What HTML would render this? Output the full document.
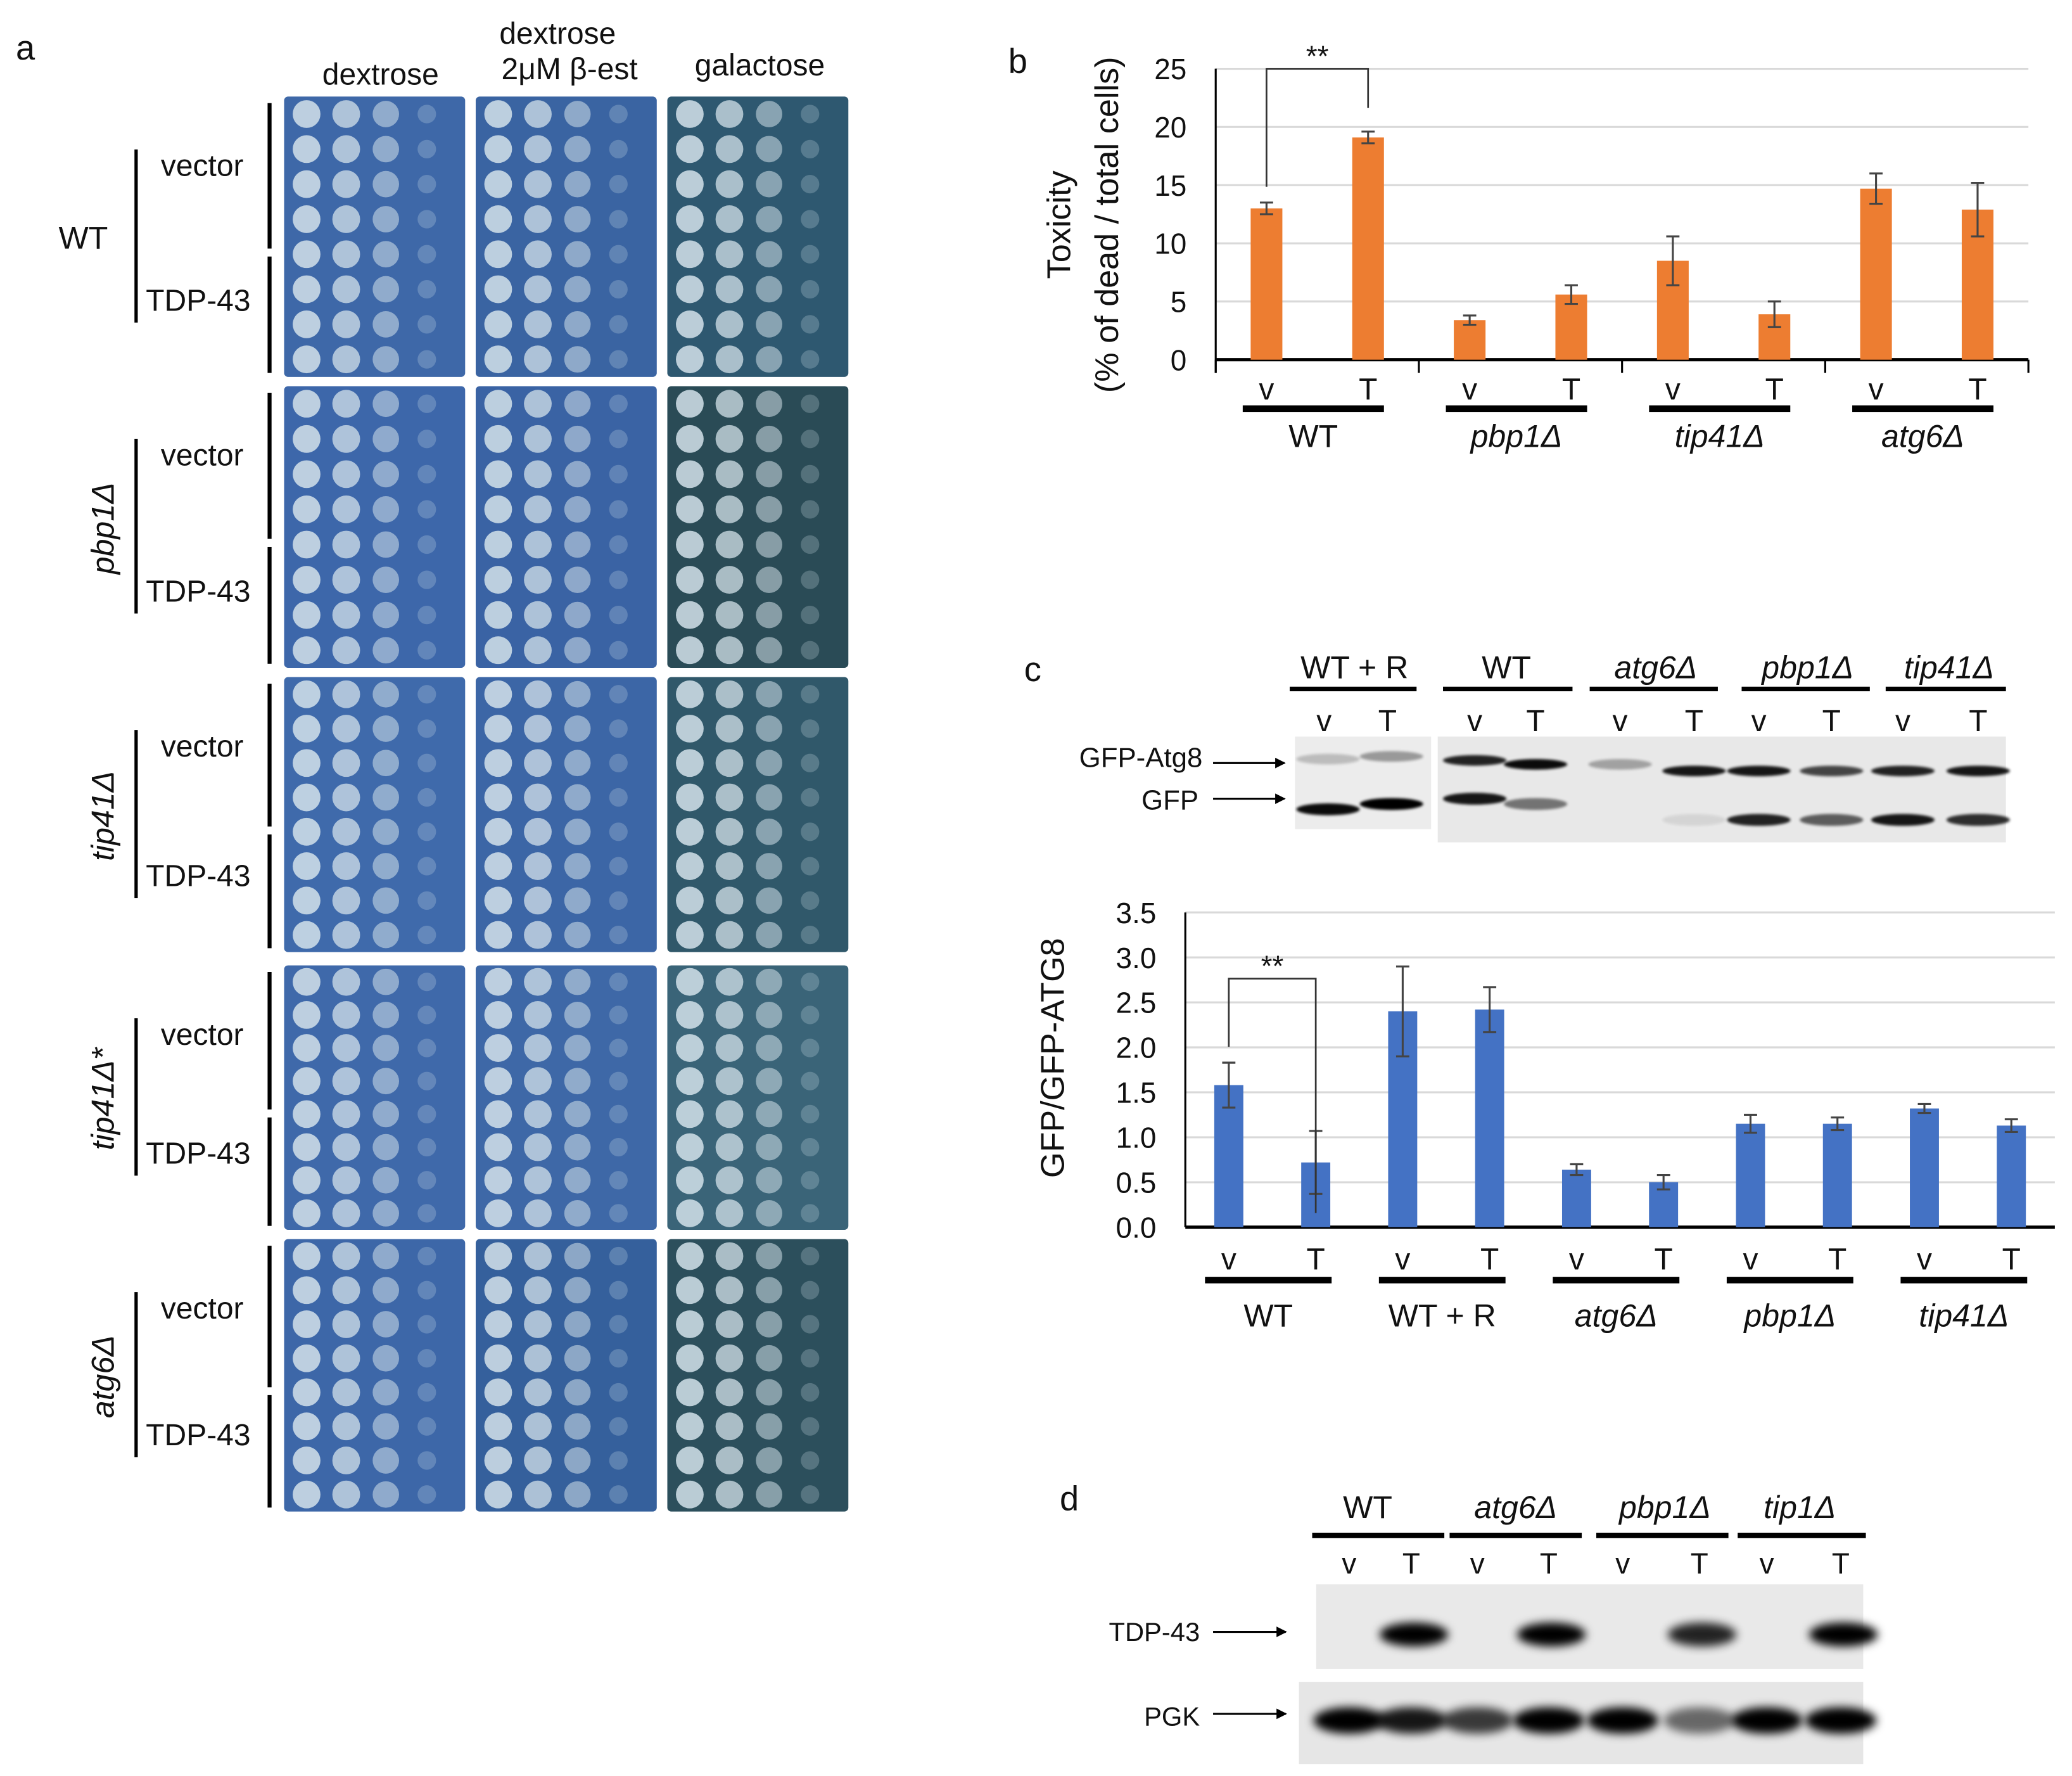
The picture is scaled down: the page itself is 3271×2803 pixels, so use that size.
<!DOCTYPE html>
<html><head><meta charset="utf-8"><style>
html,body{margin:0;padding:0;background:#fff;}
svg{display:block;}
text{font-family:"Liberation Sans",sans-serif;fill:#111;}
</style></head><body>
<svg id="fig" width="3271" height="2803" viewBox="0 0 1568 1343" preserveAspectRatio="none" xmlns="http://www.w3.org/2000/svg">
<defs>
<filter id="blur" x="-50%" y="-50%" width="200%" height="200%"><feGaussianBlur stdDeviation="3.5"/></filter>
<filter id="blur2" x="-50%" y="-50%" width="200%" height="200%"><feGaussianBlur stdDeviation="1"/></filter>
<marker id="arr" markerWidth="8" markerHeight="8" refX="7" refY="4" orient="auto" markerUnits="userSpaceOnUse"><path d="M0,0 L8,4 L0,8 Z" fill="#000"/></marker>
</defs>
<g id="panelA"></g>
<g id="panelB"></g>
<g id="panelC"></g>
<g id="panelD"></g>
</svg>
<script>
// ===== Panel b data =====
const bCategories = ["v","T","v","T","v","T","v","T"];
const bGroups = ["WT","pbp1Δ","tip41Δ","atg6Δ"];
const bValues = [13.0, 19.1, 3.4, 5.6, 8.5, 3.9, 14.7, 12.9];
const bErrors = [0.5, 0.5, 0.4, 0.8, 2.1, 1.1, 1.3, 2.3];
const bTicks = [0,5,10,15,20,25];
// ===== Panel c data =====
const cCategories = ["v","T","v","T","v","T","v","T","v","T"];
const cGroups = ["WT","WT + R","atg6Δ","pbp1Δ","tip41Δ"];
const cValues = [1.58, 0.72, 2.40, 2.42, 0.64, 0.50, 1.15, 1.15, 1.32, 1.13];
const cErrors = [0.25, 0.35, 0.50, 0.25, 0.06, 0.08, 0.10, 0.07, 0.05, 0.07];
const cTicks = ["0.0","0.5","1.0","1.5","2.0","2.5","3.0","3.5"];

const NS="http://www.w3.org/2000/svg";
function mk(parent,tag,attrs,txt){const e=document.createElementNS(NS,tag);for(const k in attrs)e.setAttribute(k,attrs[k]);if(txt!==undefined)e.textContent=txt;parent.appendChild(e);return e;}

// ===== Panel A =====
(function(){
const g=document.getElementById('panelA');
let t;
t=mk(g,'text',{x:12,y:45,'font-size':26});t.textContent='a';

const hdr=[[288,64,'dextrose'],[422,33,'dextrose'],[431,60,'2μM β-est'],[575,57,'galactose']];
hdr.forEach(h=>{const e=mk(g,'text',{x:h[0],y:h[1],'font-size':23,'text-anchor':'middle'},h[2]);
});
const cols=[[215,137],[360,137],[505,137]];
const rows=[[73,212],[292,213],[512,208],[730,200],[937,206]];
const strains=[['WT',false],['pbp1Δ',true],['tip41Δ',true],['tip41Δ*',true],['atg6Δ',true]];
const colColors=[['#3e68a8','#3a64a2','#2e5870'],['#3d67aa','#3a63a4','#2a4b56'],['#3f6aab','#3c66a6','#30586a'],['#3f69aa','#3e68a7','#3a6478'],['#3d67a8','#35609c','#2c4f5c']];
rows.forEach((r,ri)=>{
  cols.forEach((c,ci)=>{
    const pl=mk(g,'rect',{x:c[0],y:r[0],width:c[1],height:r[1],fill:colColors[ri][ci],rx:3});
    
    const step=r[1]/8;
    for(let k=0;k<8;k++){
      const cy=r[0]+step*(k+0.5);
      const xs=[17,47,77,108];
      const op=[0.85,0.75,0.55,0.25];
      const rad=[10.5,10.5,10,7];
      xs.forEach((xo,j)=>{
        mk(g,'circle',{cx:c[0]+xo,cy:cy,r:rad[j],fill:'#d4e2ea',opacity:op[j]});
      });
    }
  });
  // brackets
  const top=r[0]+5,bot=r[0]+r[1]-3,mid=(top+bot)/2;
  mk(g,'line',{x1:204,y1:top,x2:204,y2:mid+8,stroke:'#000','stroke-width':3});
  mk(g,'line',{x1:204,y1:mid+14,x2:204,y2:bot,stroke:'#000','stroke-width':3});
  mk(g,'line',{x1:103,y1:top+35,x2:103,y2:bot-38,stroke:'#000','stroke-width':2.5});
  let e=mk(g,'text',{x:153,y:top+55,'font-size':23,'text-anchor':'middle'},'vector');
  
  e=mk(g,'text',{x:150,y:bot-47,'font-size':23,'text-anchor':'middle'},'TDP-43');
  
  const sx=strains[ri][1]?78:63;
  e=mk(g,'text',{x:sx,y:mid+8,'font-size':24,'text-anchor':'middle','font-style':strains[ri][1]?'italic':'normal',transform:strains[ri][1]?`rotate(-90 ${sx} ${mid})`:''},strains[ri][0]);
  
});
})();

// ===== generic bar chart =====
function barChart(g,o){
  const y=v=>o.y0-(v/o.max)*(o.y0-o.y1);
  o.ticksNum.forEach((tv,i)=>{
    const yy=y(tv);
    if(tv>0){const gl=mk(g,'line',{x1:o.x0,y1:yy,x2:o.x2,y2:yy,stroke:'#d9d9d9','stroke-width':1.5});
      }
    const tl=mk(g,'text',{x:o.x0-22,y:yy+8,'font-size':22,'text-anchor':'end',fill:'#555'},o.tickLabels[i]);
    
  });
  const ax=mk(g,'line',{x1:o.x0,y1:o.y1,x2:o.x0,y2:o.y0+(o.gTicks?10:0),stroke:'#000','stroke-width':1.5});
  
  const xa=mk(g,'line',{x1:o.x0,y1:o.y0,x2:o.x2,y2:o.y0,stroke:'#000','stroke-width':2.5});
  
  const n=o.values.length, gw=(o.x2-o.x0)/o.groups.length;
  const bx=i=>o.x0+gw*Math.floor(i/2)+gw*(i%2===0?0.25:0.75);
  if(o.gTicks){for(let k=0;k<=o.groups.length;k++){mk(g,'line',{x1:o.x0+gw*k,y1:o.y0,x2:o.x0+gw*k,y2:o.y0+10,stroke:'#000','stroke-width':1.5});}}
  o.values.forEach((v,i)=>{
    const cx=bx(i);
    const b=mk(g,'rect',{x:cx-o.bw/2,y:y(v),width:o.bw,height:o.y0-y(v),fill:o.color});
    
    
    const e=o.errors[i];
    const eg=mk(g,'g',{stroke:'#444','stroke-width':1.5});
    
    mk(eg,'line',{x1:cx,y1:y(v+e),x2:cx,y2:y(v-e)});
    mk(eg,'line',{x1:cx-5,y1:y(v+e),x2:cx+5,y2:y(v+e)});
    mk(eg,'line',{x1:cx-5,y1:y(v-e),x2:cx+5,y2:y(v-e)});
    const cl=mk(g,'text',{x:cx,y:o.catY,'font-size':23,'text-anchor':'middle'},o.cats[i]);
    
  });
  o.groups.forEach((gn,k)=>{
    const a=bx(2*k)-18,b2=bx(2*k+1)+12;
    const ul=mk(g,'line',{x1:a,y1:o.lineY,x2:b2,y2:o.lineY,stroke:'#000','stroke-width':5});
    
    const gl=mk(g,'text',{x:(a+b2)/2,y:o.grpY,'font-size':24,'text-anchor':'middle','font-style':gn.indexOf('WT')===0?'normal':'italic'},gn);
    
  });
  // significance bracket
  const x1=bx(0),x2=bx(1),topY=o.brY;
  const br=mk(g,'path',{d:`M${x1},${y(o.values[0]+o.errors[0])-12} L${x1},${topY} L${x2},${topY} L${x2},${y(o.values[1]+o.errors[1])-(o.brGap)}`,fill:'none',stroke:'#333','stroke-width':1.3});
  
  const st=mk(g,'text',{x:(x1+x2)/2,y:topY-2,'font-size':22,'text-anchor':'middle'},'**');
  
}

// ===== Panel B =====
(function(){
const g=document.getElementById('panelB');
let t=mk(g,'text',{x:763,y:55,'font-size':26},'b');
barChart(g,{x0:920,x2:1535,y0:272,y1:52,max:25,ticksNum:bTicks,tickLabels:bTicks.map(String),values:bValues,errors:bErrors,cats:bCategories,groups:bGroups,color:'#ed7d31',bw:24,catY:302,lineY:309,grpY:338,gTicks:true,brY:52,brGap:18});
t=mk(g,'text',{x:0,y:0,'font-size':25,'text-anchor':'middle',transform:'translate(810 170) rotate(-90)'},'Toxicity');

t=mk(g,'text',{x:0,y:0,'font-size':25,'text-anchor':'middle',transform:'translate(846 170) rotate(-90)'},'(% of dead / total cells)');

})();

// ===== Panel C =====
(function(){
const g=document.getElementById('panelC');
let t=mk(g,'text',{x:775,y:515,'font-size':26},'c');
const hd=[[1025,'WT + R',976,1072],[1140,'WT',1092,1190],[1253,'atg6Δ',1203,1300],[1368,'pbp1Δ',1318,1415],[1475,'tip41Δ',1427,1518]];
hd.forEach(h=>{const e=mk(g,'text',{x:h[0],y:513,'font-size':24,'text-anchor':'middle','font-style':h[1].indexOf('WT')===0?'normal':'italic'},h[1]);
 
 mk(g,'line',{x1:h[2],y1:521,x2:h[3],y2:521,stroke:'#000','stroke-width':3.5});});
const lanes=[1002,1050,1116,1162,1226,1282,1331,1386,1440,1497];
lanes.forEach((lx,i)=>{const e=mk(g,'text',{x:lx,y:553,'font-size':23,'text-anchor':'middle'},i%2?'T':'v');});
let r=mk(g,'rect',{x:980,y:557,width:103,height:70,fill:'#ececec'});
r=mk(g,'rect',{x:1088,y:557,width:430,height:80,fill:'#e8e8e8'});
const up=[0.2,0.35,0.85,0.95,0.3,0.9,0.9,0.7,0.85,0.9];
const lo=[0.95,1,0.9,0.5,0,0.08,0.85,0.6,0.9,0.8];
const upY=[574,572,575,578,578,583,583,583,583,583], loY=[612,608,604,608,620,620,620,620,620,620];
lanes.forEach((lx,i)=>{
 if(up[i]>0) mk(g,'ellipse',{cx:lx+(i<2?3:0),cy:upY[i],rx:24,ry:4,fill:'#000',opacity:up[i],filter:'url(#blur2)'});
 if(lo[i]>0) mk(g,'ellipse',{cx:lx+(i<2?3:0),cy:loY[i],rx:24,ry:4.5,fill:'#000',opacity:lo[i],filter:'url(#blur2)'});
});
t=mk(g,'text',{x:910,y:580,'font-size':21,'text-anchor':'end'},'GFP-Atg8');
t=mk(g,'text',{x:907,y:612,'font-size':21,'text-anchor':'end'},'GFP');
mk(g,'line',{x1:918,y1:577,x2:972,y2:577,stroke:'#000','stroke-width':1.5,'marker-end':'url(#arr)'});
mk(g,'line',{x1:918,y1:604,x2:972,y2:604,stroke:'#000','stroke-width':1.5,'marker-end':'url(#arr)'});
barChart(g,{x0:897,x2:1555,y0:928,y1:690,max:3.5,ticksNum:cTicks.map(Number),tickLabels:cTicks,values:cValues,errors:cErrors,cats:cCategories,groups:cGroups,color:'#4472c4',bw:22,catY:960,lineY:968,grpY:1003,gTicks:false,brY:740,brGap:-62});
t=mk(g,'text',{x:0,y:0,'font-size':25,'text-anchor':'middle',transform:'translate(805 800) rotate(-90)'},'GFP/GFP-ATG8');

})();

// ===== Panel D =====
(function(){
const g=document.getElementById('panelD');
let t=mk(g,'text',{x:802,y:1142,'font-size':26},'d');
const hd=[[1035,'WT',993,1093],[1147,'atg6Δ',1097,1197],[1260,'pbp1Δ',1208,1308],[1362,'tip1Δ',1315,1412]];
hd.forEach(h=>{const e=mk(g,'text',{x:h[0],y:1148,'font-size':24,'text-anchor':'middle','font-style':h[1]==='WT'?'normal':'italic'},h[1]);
 
 mk(g,'line',{x1:h[2],y1:1161,x2:h[3],y2:1161,stroke:'#000','stroke-width':4});});
const lanes=[1021,1068,1118,1172,1228,1286,1337,1393];
lanes.forEach((lx,i)=>{const e=mk(g,'text',{x:lx,y:1190,'font-size':22,'text-anchor':'middle'},i%2?'T':'v');});
let r=mk(g,'rect',{x:996,y:1198,width:414,height:64,fill:'#e9e9e9'});
r=mk(g,'rect',{x:983,y:1272,width:427,height:62,fill:'#e6e6e6'});
const tdp=[0,1,0,1,0,0.85,0,1], pgk=[1,0.9,0.75,1,1,0.55,1,1];
lanes.forEach((lx,i)=>{
 if(tdp[i]>0) mk(g,'ellipse',{cx:lx+2,cy:1236,rx:26,ry:9,fill:'#000',opacity:tdp[i],filter:'url(#blur)'});
 mk(g,'ellipse',{cx:lx,cy:1301,rx:27,ry:10,fill:'#000',opacity:pgk[i],filter:'url(#blur)'});
});
t=mk(g,'text',{x:908,y:1241,'font-size':20,'text-anchor':'end'},'TDP-43');
t=mk(g,'text',{x:908,y:1305,'font-size':20,'text-anchor':'end'},'PGK');
mk(g,'line',{x1:918,y1:1234,x2:973,y2:1234,stroke:'#000','stroke-width':1.5,'marker-end':'url(#arr)'});
mk(g,'line',{x1:918,y1:1296,x2:973,y2:1296,stroke:'#000','stroke-width':1.5,'marker-end':'url(#arr)'});
})();
</script>
</body></html>
